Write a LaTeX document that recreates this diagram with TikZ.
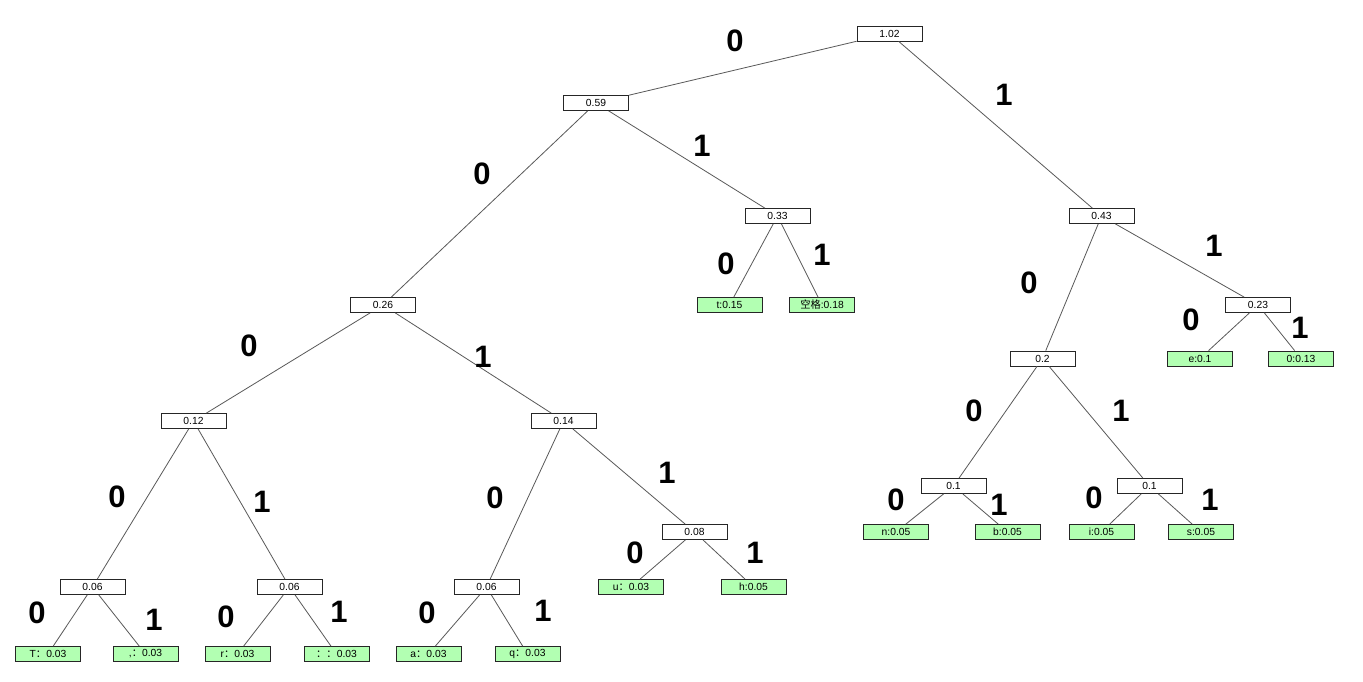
\documentclass[tikz,border=0pt]{standalone}
\usepackage{fontspec}
\setmainfont{Liberation Sans}
\newfontfamily\cjk{Noto Sans CJK SC}
\newcommand{\fc}{{\cjk ：}}
\begin{document}
\begin{tikzpicture}[x=1pt,y=-1pt,
  inner/.style={draw=black!85,fill=white,line width=0.8pt,minimum width=65pt,minimum height=15pt,inner sep=0pt,font=\fontsize{10.3}{11}\selectfont},
  leaf/.style={inner,fill=green!30!white},
  bit/.style={font=\fontsize{31}{31}\selectfont\bfseries,inner sep=0pt},
  link/.style={draw=black!65,line width=0.8pt}]
\useasboundingbox[fill=white] (0,0) rectangle (1363,682);
% internal nodes
\node[inner] (n102) at (889.5,33.5) {1.02};
\node[inner] (n059) at (596,103) {0.59};
\node[inner] (n033) at (777.5,216) {0.33};
\node[inner] (n043) at (1101.5,216) {0.43};
\node[inner] (n026) at (383,305) {0.26};
\node[inner] (n023) at (1258,305) {0.23};
\node[inner] (n02) at (1042.5,358.5) {0.2};
\node[inner] (n012) at (193.5,421) {0.12};
\node[inner] (n014) at (563.5,421) {0.14};
\node[inner] (n01a) at (953.5,486) {0.1};
\node[inner] (n01b) at (1149.5,486) {0.1};
\node[inner] (n008) at (694.5,532) {0.08};
\node[inner] (n006a) at (92.5,587) {0.06};
\node[inner] (n006b) at (289.5,587) {0.06};
\node[inner] (n006c) at (486.5,587) {0.06};
% leaves
\node[leaf] (lt) at (729.5,305) {t:0.15};
\node[leaf] (lsp) at (822,305) {{\cjk 空格}:0.18};
\node[leaf] (le) at (1200,358.5) {e:0.1};
\node[leaf] (lo) at (1301,358.5) {0:0.13};
\node[leaf] (ln) at (896,532) {n:0.05};
\node[leaf] (lb) at (1007.5,532) {b:0.05};
\node[leaf] (li) at (1101.5,532) {i:0.05};
\node[leaf] (ls) at (1201,532) {s:0.05};
\node[leaf] (lu) at (631,587) {u\fc 0.03};
\node[leaf] (lh) at (753.5,587) {h:0.05};
\node[leaf] (lT) at (48,654) {T\fc 0.03};
\node[leaf] (lcomma) at (145.5,654) {,\fc 0.03};
\node[leaf] (lr) at (237.5,654) {r\fc 0.03};
\node[leaf] (lcolon) at (336.5,654) {\fc\fc 0.03};
\node[leaf] (la) at (428.5,654) {a\fc 0.03};
\node[leaf] (lq) at (527.5,654) {q\fc 0.03};
% connectors
\path[link] (n102) -- (n059);
\path[link] (n102) -- (n043);
\path[link] (n059) -- (n026);
\path[link] (n059) -- (n033);
\path[link] (n033) -- (lt);
\path[link] (n033) -- (lsp);
\path[link] (n043) -- (n02);
\path[link] (n043) -- (n023);
\path[link] (n023) -- (le);
\path[link] (n023) -- (lo);
\path[link] (n026) -- (n012);
\path[link] (n026) -- (n014);
\path[link] (n02) -- (n01a);
\path[link] (n02) -- (n01b);
\path[link] (n01a) -- (ln);
\path[link] (n01a) -- (lb);
\path[link] (n01b) -- (li);
\path[link] (n01b) -- (ls);
\path[link] (n012) -- (n006a);
\path[link] (n012) -- (n006b);
\path[link] (n014) -- (n006c);
\path[link] (n014) -- (n008);
\path[link] (n008) -- (lu);
\path[link] (n008) -- (lh);
\path[link] (n006a) -- (lT);
\path[link] (n006a) -- (lcomma);
\path[link] (n006b) -- (lr);
\path[link] (n006b) -- (lcolon);
\path[link] (n006c) -- (la);
\path[link] (n006c) -- (lq);
% bit labels
\node[bit] (b1) at (735,41) {0};
\node[bit] (b2) at (1004,95) {1};
\node[bit] (b3) at (482,174) {0};
\node[bit] (b4) at (702,146) {1};
\node[bit] (b5) at (726,264) {0};
\node[bit] (b6) at (822,255) {1};
\node[bit] (b7) at (1029,283) {0};
\node[bit] (b8) at (1214,246) {1};
\node[bit] (b9) at (1191,320) {0};
\node[bit] (b10) at (1300,328) {1};
\node[bit] (b11) at (249,346) {0};
\node[bit] (b12) at (483,357) {1};
\node[bit] (b13) at (974,411) {0};
\node[bit] (b14) at (1121,411) {1};
\node[bit] (b15) at (896,500) {0};
\node[bit] (b16) at (999,505) {1};
\node[bit] (b17) at (1094,498) {0};
\node[bit] (b18) at (1210,500) {1};
\node[bit] (b19) at (117,497) {0};
\node[bit] (b20) at (262,502) {1};
\node[bit] (b21) at (495,498) {0};
\node[bit] (b22) at (667,473) {1};
\node[bit] (b23) at (635,553) {0};
\node[bit] (b24) at (755,553) {1};
\node[bit] (b25) at (37,613) {0};
\node[bit] (b26) at (154,620) {1};
\node[bit] (b27) at (226,617) {0};
\node[bit] (b28) at (339,612) {1};
\node[bit] (b29) at (427,613) {0};
\node[bit] (b30) at (543,611) {1};
\end{tikzpicture}
\end{document}
